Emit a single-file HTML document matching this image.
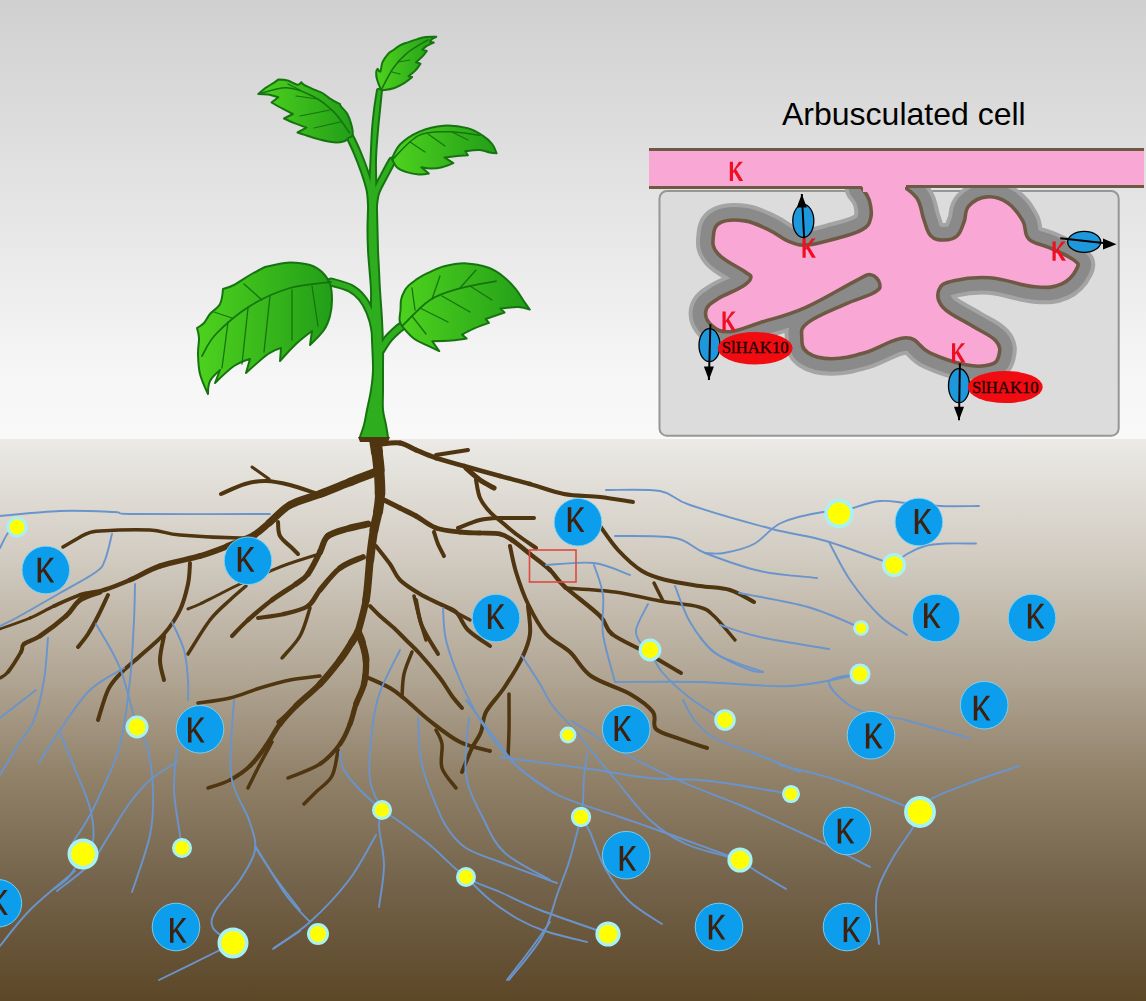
<!DOCTYPE html>
<html><head><meta charset="utf-8">
<style>
html,body{margin:0;padding:0;width:1146px;height:1001px;overflow:hidden;background:#fff}
svg{display:block}
</style></head>
<body>
<svg width="1146" height="1001" viewBox="0 0 1146 1001">

<defs>
<linearGradient id="sky" x1="0" y1="0" x2="0" y2="1">
<stop offset="0" stop-color="#d0d0d0"/>
<stop offset="0.5" stop-color="#e6e6e6"/>
<stop offset="0.85" stop-color="#f6f6f6"/>
<stop offset="1" stop-color="#f9f9f9"/>
</linearGradient>
<linearGradient id="soil" x1="0" y1="0" x2="0" y2="1">
<stop offset="0" stop-color="#ebeae6"/>
<stop offset="0.2" stop-color="#d3cdc3"/>
<stop offset="0.4" stop-color="#b5aa99"/>
<stop offset="0.6" stop-color="#918169"/>
<stop offset="0.8" stop-color="#73624a"/>
<stop offset="1" stop-color="#5c4727"/>
</linearGradient>
<linearGradient id="leafg" x1="0" y1="0" x2="1" y2="0">
<stop offset="0" stop-color="#4ed21e"/>
<stop offset="1" stop-color="#229e18"/>
</linearGradient>
<path id="kg" d="M0,0H3.5V12.6L12.5,0H16.4L7.4,11L16.6,24.8H12.9L5.4,13.6L3.5,15.7V24.8H0Z" fill="#3e200e"/>
<path id="rk" d="M0,0H3.2V9.3L9.2,0H13.2L6.3,7.5L13.4,19.4H9.5L4.2,10.3L3.2,11.5V19.4H0Z"/>
</defs>

<rect x="0" y="0" width="1146" height="439" fill="url(#sky)"/>
<rect x="0" y="439" width="1146" height="562" fill="url(#soil)"/>

<g fill="none" stroke="#4f3510" stroke-linecap="round" stroke-linejoin="round">
<path stroke-width="12.07" d="M375.0,439.0C375.3,441.2 376.3,446.8 377.0,452.0"/>
<path stroke-width="11.34" d="M377.0,452.0C377.7,457.2 378.5,463.0 379.0,470.0"/>
<path stroke-width="10.60" d="M379.0,470.0C379.5,477.0 380.2,487.0 380.0,494.0"/>
<path stroke-width="9.86" d="M380.0,494.0C379.8,501.0 379.0,506.0 378.0,512.0"/>
<path stroke-width="9.12" d="M378.0,512.0C377.0,518.0 375.3,522.0 374.0,530.0"/>
<path stroke-width="8.38" d="M374.0,530.0C372.7,538.0 371.3,548.3 370.0,560.0"/>
<path stroke-width="7.64" d="M370.0,560.0C368.7,571.7 368.0,588.0 366.0,600.0"/>
<path stroke-width="6.90" d="M366.0,600.0C364.0,612.0 359.3,626.7 358.0,632.0"/>
<path stroke-width="7.47" d="M358.0,632.0C357.0,633.7 355.0,637.3 352.0,642.0"/>
<path stroke-width="6.97" d="M352.0,642.0C349.0,646.7 345.3,653.0 340.0,660.0"/>
<path stroke-width="6.47" d="M340.0,660.0C334.7,667.0 327.3,676.3 320.0,684.0"/>
<path stroke-width="5.97" d="M320.0,684.0C312.7,691.7 302.7,699.3 296.0,706.0"/>
<path stroke-width="5.46" d="M296.0,706.0C289.3,712.7 285.0,717.3 280.0,724.0"/>
<path stroke-width="4.96" d="M280.0,724.0C275.0,730.7 271.0,739.0 266.0,746.0"/>
<path stroke-width="4.46" d="M266.0,746.0C261.0,753.0 256.0,760.3 250.0,766.0"/>
<path stroke-width="3.95" d="M250.0,766.0C244.0,771.7 237.0,776.3 230.0,780.0"/>
<path stroke-width="3.45" d="M230.0,780.0C223.0,783.7 211.7,786.7 208.0,788.0"/>
<path stroke-width="7.47" d="M358.0,632.0C358.7,633.7 360.7,637.3 362.0,642.0"/>
<path stroke-width="6.90" d="M362.0,642.0C363.3,646.7 365.7,653.0 366.0,660.0"/>
<path stroke-width="6.32" d="M366.0,660.0C366.3,667.0 365.7,676.7 364.0,684.0"/>
<path stroke-width="5.75" d="M364.0,684.0C362.3,691.3 358.3,697.3 356.0,704.0"/>
<path stroke-width="5.17" d="M356.0,704.0C353.7,710.7 352.7,717.3 350.0,724.0"/>
<path stroke-width="4.60" d="M350.0,724.0C347.3,730.7 345.0,737.3 340.0,744.0"/>
<path stroke-width="4.02" d="M340.0,744.0C335.0,750.7 328.7,758.3 320.0,764.0"/>
<path stroke-width="3.45" d="M320.0,764.0C311.3,769.7 293.3,775.7 288.0,778.0"/>
<path stroke-width="3.50" d="M294.0,708.0L278.0,722.0"/>
<path stroke-width="3.50" d="M272.0,742.0C270.0,745.7 264.0,756.3 260.0,764.0C256.0,771.7 250.0,784.0 248.0,788.0"/>
<path stroke-width="3.50" d="M338.0,750.0C337.0,754.3 335.7,769.0 332.0,776.0C328.3,783.0 320.7,787.3 316.0,792.0C311.3,796.7 306.0,802.0 304.0,804.0"/>
<path stroke-width="8.62" d="M376.0,472.0C371.7,473.7 359.3,478.3 350.0,482.0"/>
<path stroke-width="8.17" d="M350.0,482.0C340.7,485.7 330.0,490.2 320.0,494.0"/>
<path stroke-width="7.72" d="M320.0,494.0C310.0,497.8 298.5,500.2 290.0,505.0"/>
<path stroke-width="7.27" d="M290.0,505.0C281.5,509.8 275.0,518.0 269.0,523.0"/>
<path stroke-width="6.82" d="M269.0,523.0C263.0,528.0 260.8,531.2 254.0,535.0"/>
<path stroke-width="6.37" d="M254.0,535.0C247.2,538.8 237.0,542.5 228.0,546.0"/>
<path stroke-width="5.92" d="M228.0,546.0C219.0,549.5 211.3,552.7 200.0,556.0"/>
<path stroke-width="5.47" d="M200.0,556.0C188.7,559.3 171.7,562.0 160.0,566.0"/>
<path stroke-width="5.02" d="M160.0,566.0C148.3,570.0 139.3,576.0 130.0,580.0"/>
<path stroke-width="4.56" d="M130.0,580.0C120.7,584.0 112.3,587.5 104.0,590.0"/>
<path stroke-width="4.11" d="M104.0,590.0C95.7,592.5 88.3,592.3 80.0,595.0"/>
<path stroke-width="3.66" d="M80.0,595.0C71.7,597.7 62.3,602.2 54.0,606.0"/>
<path stroke-width="3.21" d="M54.0,606.0C45.7,609.8 39.0,614.2 30.0,618.0"/>
<path stroke-width="2.76" d="M30.0,618.0C21.0,621.8 5.0,627.2 0.0,629.0"/>
<path stroke-width="4.00" d="M315.0,493.0C310.8,491.7 298.2,487.0 290.0,485.0C281.8,483.0 273.5,481.2 266.0,481.0C258.5,480.8 252.5,481.8 245.0,484.0C237.5,486.2 225.0,492.3 221.0,494.0"/>
<path stroke-width="3.00" d="M269.0,479.0L252.0,467.0"/>
<path stroke-width="3.50" d="M63.0,547.0C65.0,545.8 71.2,542.2 75.0,540.0C78.8,537.8 81.8,535.5 86.0,534.0C90.2,532.5 89.3,531.7 100.0,531.0C110.7,530.3 136.7,529.3 150.0,530.0C163.3,530.7 165.0,533.7 180.0,535.0C195.0,536.3 227.3,537.8 240.0,538.0C252.7,538.2 253.3,536.3 256.0,536.0"/>
<path stroke-width="4.00" d="M278.0,522.0C278.3,524.3 277.7,531.7 280.0,536.0C282.3,540.3 289.0,545.0 292.0,548.0C295.0,551.0 297.0,553.0 298.0,554.0"/>
<path stroke-width="5.17" d="M100.0,592.0C96.7,593.3 85.7,596.0 80.0,600.0"/>
<path stroke-width="4.89" d="M80.0,600.0C74.3,604.0 72.7,610.0 66.0,616.0"/>
<path stroke-width="4.60" d="M66.0,616.0C59.3,622.0 47.0,631.3 40.0,636.0"/>
<path stroke-width="4.31" d="M40.0,636.0C33.0,640.7 27.2,641.3 24.0,644.0"/>
<path stroke-width="4.03" d="M24.0,644.0C20.8,646.7 23.7,647.3 21.0,652.0"/>
<path stroke-width="3.74" d="M21.0,652.0C18.3,656.7 11.5,667.7 8.0,672.0"/>
<path stroke-width="3.45" d="M8.0,672.0C4.5,676.3 1.3,677.0 0.0,678.0"/>
<path stroke-width="4.00" d="M108.0,595.0C106.3,598.5 101.3,609.5 98.0,616.0C94.7,622.5 91.3,628.8 88.0,634.0C84.7,639.2 79.7,644.8 78.0,647.0"/>
<path stroke-width="4.00" d="M190.0,563.0C189.7,566.5 189.7,576.2 188.0,584.0C186.3,591.8 184.0,601.7 180.0,610.0C176.0,618.3 170.7,626.3 164.0,634.0C157.3,641.7 147.3,649.3 140.0,656.0C132.7,662.7 125.3,668.3 120.0,674.0C114.7,679.7 111.7,682.3 108.0,690.0C104.3,697.7 99.7,715.0 98.0,720.0"/>
<path stroke-width="4.00" d="M164.0,636.0C163.3,640.0 160.0,652.7 160.0,660.0C160.0,667.3 163.3,676.7 164.0,680.0"/>
<path stroke-width="6.90" d="M368.0,524.0C365.0,524.7 356.7,526.0 350.0,528.0"/>
<path stroke-width="6.49" d="M350.0,528.0C343.3,530.0 333.0,532.0 328.0,536.0"/>
<path stroke-width="6.08" d="M328.0,536.0C323.0,540.0 323.3,545.7 320.0,552.0"/>
<path stroke-width="5.67" d="M320.0,552.0C316.7,558.3 312.0,568.7 308.0,574.0"/>
<path stroke-width="5.26" d="M308.0,574.0C304.0,579.3 302.0,579.7 296.0,584.0"/>
<path stroke-width="4.85" d="M296.0,584.0C290.0,588.3 280.0,594.0 272.0,600.0"/>
<path stroke-width="4.44" d="M272.0,600.0C264.0,606.0 254.7,614.0 248.0,620.0"/>
<path stroke-width="4.02" d="M248.0,620.0C241.3,626.0 234.7,633.3 232.0,636.0"/>
<path stroke-width="3.50" d="M246.0,586.0C243.3,588.3 236.0,594.3 230.0,600.0C224.0,605.7 217.0,611.0 210.0,620.0C203.0,629.0 191.7,648.3 188.0,654.0"/>
<path stroke-width="3.00" d="M316.0,555.0C311.3,556.5 296.0,561.2 288.0,564.0C280.0,566.8 276.0,568.7 268.0,572.0C260.0,575.3 248.7,580.0 240.0,584.0C231.3,588.0 222.7,592.7 216.0,596.0C209.3,599.3 204.7,601.8 200.0,604.0C195.3,606.2 190.0,608.2 188.0,609.0"/>
<path stroke-width="5.75" d="M363.0,557.0C359.2,558.8 347.2,562.5 340.0,568.0"/>
<path stroke-width="5.32" d="M340.0,568.0C332.8,573.5 325.3,583.7 320.0,590.0"/>
<path stroke-width="4.89" d="M320.0,590.0C314.7,596.3 314.0,602.0 308.0,606.0"/>
<path stroke-width="4.46" d="M308.0,606.0C302.0,610.0 292.3,612.0 284.0,614.0"/>
<path stroke-width="4.02" d="M284.0,614.0C275.7,616.0 262.3,617.3 258.0,618.0"/>
<path stroke-width="3.50" d="M310.0,608.0C308.3,612.7 304.7,627.7 300.0,636.0C295.3,644.3 285.0,654.3 282.0,658.0"/>
<path stroke-width="3.50" d="M320.0,676.0C315.0,676.7 300.0,678.0 290.0,680.0C280.0,682.0 270.0,685.0 260.0,688.0C250.0,691.0 240.3,695.5 230.0,698.0C219.7,700.5 203.3,702.2 198.0,703.0"/>
<path stroke-width="5.17" d="M380.0,444.0C383.3,443.8 394.0,442.0 400.0,443.0"/>
<path stroke-width="5.03" d="M400.0,443.0C406.0,444.0 410.0,447.5 416.0,450.0"/>
<path stroke-width="4.89" d="M416.0,450.0C422.0,452.5 428.0,455.3 436.0,458.0"/>
<path stroke-width="4.74" d="M436.0,458.0C444.0,460.7 453.3,463.0 464.0,466.0"/>
<path stroke-width="4.60" d="M464.0,466.0C474.7,469.0 489.0,473.0 500.0,476.0"/>
<path stroke-width="4.46" d="M500.0,476.0C511.0,479.0 519.3,481.0 530.0,484.0"/>
<path stroke-width="4.31" d="M530.0,484.0C540.7,487.0 552.3,491.8 564.0,494.0"/>
<path stroke-width="4.17" d="M564.0,494.0C575.7,496.2 588.5,495.7 600.0,497.0"/>
<path stroke-width="4.02" d="M600.0,497.0C611.5,498.3 627.5,501.2 633.0,502.0"/>
<path stroke-width="4.00" d="M436.0,455.0L468.0,450.0"/>
<path stroke-width="5.17" d="M466.0,468.0C468.3,470.0 475.3,476.7 480.0,480.0C484.7,483.3 491.7,486.7 494.0,488.0"/>
<path stroke-width="4.00" d="M476.0,480.0C476.7,483.0 477.7,492.7 480.0,498.0C482.3,503.3 486.0,507.7 490.0,512.0C494.0,516.3 499.7,520.3 504.0,524.0C508.3,527.7 510.7,530.0 516.0,534.0C521.3,538.0 532.7,545.7 536.0,548.0"/>
<path stroke-width="5.17" d="M384.0,500.0C386.7,501.3 394.7,505.3 400.0,508.0"/>
<path stroke-width="5.09" d="M400.0,508.0C405.3,510.7 410.0,512.7 416.0,516.0"/>
<path stroke-width="5.00" d="M416.0,516.0C422.0,519.3 428.7,525.3 436.0,528.0"/>
<path stroke-width="4.91" d="M436.0,528.0C443.3,530.7 452.7,531.2 460.0,532.0"/>
<path stroke-width="4.82" d="M460.0,532.0C467.3,532.8 473.3,532.7 480.0,533.0"/>
<path stroke-width="4.73" d="M480.0,533.0C486.7,533.3 494.7,532.8 500.0,534.0"/>
<path stroke-width="4.64" d="M500.0,534.0C505.3,535.2 507.0,536.7 512.0,540.0"/>
<path stroke-width="4.56" d="M512.0,540.0C517.0,543.3 523.7,549.0 530.0,554.0"/>
<path stroke-width="4.47" d="M530.0,554.0C536.3,559.0 544.3,564.7 550.0,570.0"/>
<path stroke-width="4.38" d="M550.0,570.0C555.7,575.3 555.7,578.3 564.0,586.0"/>
<path stroke-width="4.29" d="M564.0,586.0C572.3,593.7 592.0,608.0 600.0,616.0"/>
<path stroke-width="4.20" d="M600.0,616.0C608.0,624.0 604.5,628.0 612.0,634.0"/>
<path stroke-width="4.11" d="M612.0,634.0C619.5,640.0 633.5,645.5 645.0,652.0"/>
<path stroke-width="4.02" d="M645.0,652.0C656.5,658.5 675.0,669.5 681.0,673.0"/>
<path stroke-width="4.00" d="M458.0,528.0C461.7,526.7 473.0,521.7 480.0,520.0C487.0,518.3 491.0,518.3 500.0,518.0C509.0,517.7 528.3,518.0 534.0,518.0"/>
<path stroke-width="4.00" d="M434.0,532.0C434.7,534.0 436.3,540.0 438.0,544.0C439.7,548.0 443.0,554.0 444.0,556.0"/>
<path stroke-width="4.00" d="M376.0,546.0C378.3,549.0 386.0,558.3 390.0,564.0C394.0,569.7 395.0,575.0 400.0,580.0C405.0,585.0 413.3,590.0 420.0,594.0C426.7,598.0 434.0,601.0 440.0,604.0C446.0,607.0 451.3,607.7 456.0,612.0C460.7,616.3 462.3,624.3 468.0,630.0C473.7,635.7 486.3,643.3 490.0,646.0"/>
<path stroke-width="3.50" d="M440.0,604.0L470.0,620.0"/>
<path stroke-width="3.50" d="M414.0,596.0C415.0,600.0 418.0,612.7 420.0,620.0C422.0,627.3 425.0,636.7 426.0,640.0"/>
<path stroke-width="4.00" d="M416.0,600.0C417.0,604.3 418.3,617.0 422.0,626.0C425.7,635.0 435.3,649.3 438.0,654.0"/>
<path stroke-width="4.00" d="M370.0,606.0C371.7,607.7 376.0,612.3 380.0,616.0C384.0,619.7 389.7,624.0 394.0,628.0C398.3,632.0 401.7,635.7 406.0,640.0C410.3,644.3 414.3,647.7 420.0,654.0C425.7,660.3 434.7,671.0 440.0,678.0C445.3,685.0 448.3,691.0 452.0,696.0C455.7,701.0 460.3,706.0 462.0,708.0"/>
<path stroke-width="4.00" d="M364.0,676.0C368.3,678.0 383.0,684.0 390.0,688.0C397.0,692.0 399.3,694.5 406.0,700.0C412.7,705.5 421.0,714.0 430.0,721.0C439.0,728.0 450.0,737.0 460.0,742.0C470.0,747.0 485.0,749.5 490.0,751.0"/>
<path stroke-width="3.50" d="M402.0,697.0C402.3,693.2 402.3,681.5 404.0,674.0C405.7,666.5 410.7,655.7 412.0,652.0"/>
<path stroke-width="3.50" d="M436.0,730.0C437.0,732.3 441.0,737.7 442.0,744.0C443.0,750.3 439.7,760.7 442.0,768.0C444.3,775.3 453.7,784.7 456.0,788.0"/>
<path stroke-width="4.00" d="M510.0,546.0C511.0,550.3 513.0,562.3 516.0,572.0C519.0,581.7 523.0,593.7 528.0,604.0C533.0,614.3 539.0,626.0 546.0,634.0C553.0,642.0 562.5,645.0 570.0,652.0C577.5,659.0 581.0,669.0 591.0,676.0C601.0,683.0 619.7,688.0 630.0,694.0C640.3,700.0 648.7,706.2 653.0,712.0C657.3,717.8 651.5,724.5 656.0,729.0C660.5,733.5 671.5,735.8 680.0,739.0C688.5,742.2 702.5,746.5 707.0,748.0"/>
<path stroke-width="4.00" d="M528.0,606.0C528.3,610.7 531.0,625.3 530.0,634.0C529.0,642.7 526.3,649.0 522.0,658.0C517.7,667.0 510.0,679.0 504.0,688.0C498.0,697.0 489.8,704.7 486.0,712.0C482.2,719.3 483.3,726.0 481.0,732.0C478.7,738.0 475.2,741.3 472.0,748.0C468.8,754.7 463.7,768.0 462.0,772.0"/>
<path stroke-width="3.50" d="M509.0,694.0C509.0,700.0 509.2,719.5 509.0,730.0C508.8,740.5 508.2,752.5 508.0,757.0"/>
<path stroke-width="4.00" d="M600.0,526.0C603.0,530.0 611.0,542.5 618.0,550.0C625.0,557.5 634.0,566.0 642.0,571.0C650.0,576.0 656.3,577.5 666.0,580.0C675.7,582.5 689.3,584.3 700.0,586.0C710.7,587.7 721.0,587.3 730.0,590.0C739.0,592.7 750.0,600.0 754.0,602.0"/>
<path stroke-width="3.50" d="M565.0,588.0C573.3,588.7 599.2,589.8 615.0,592.0C630.8,594.2 646.0,598.5 660.0,601.0C674.0,603.5 690.0,604.5 699.0,607.0C708.0,609.5 708.0,610.5 714.0,616.0C720.0,621.5 731.5,636.0 735.0,640.0"/>
<path stroke-width="3.50" d="M654.0,583.0L663.0,601.0"/>
</g>
<g fill="none" stroke="#6a94cc" stroke-width="1.9" stroke-linecap="round" stroke-linejoin="round">
<path d="M0.0,516.0C10.0,515.2 41.0,511.7 60.0,511.0C79.0,510.3 101.5,511.5 114.0,512.0C126.5,512.5 109.0,513.7 135.0,514.0C161.0,514.3 247.5,514.0 270.0,514.0"/>
<path d="M17.0,527.0C15.5,528.0 10.8,529.5 8.0,533.0C5.2,536.5 1.3,545.5 0.0,548.0"/>
<path d="M112.0,534.0C110.8,538.3 107.7,553.7 105.0,560.0C102.3,566.3 103.5,566.5 96.0,572.0C88.5,577.5 73.0,585.5 60.0,593.0C47.0,600.5 28.0,611.5 18.0,617.0C8.0,622.5 3.0,624.5 0.0,626.0"/>
<path d="M135.0,584.0C134.8,590.0 134.8,604.0 134.0,620.0C133.2,636.0 132.3,659.2 130.0,680.0C127.7,700.8 124.7,726.7 120.0,745.0C115.3,763.3 107.0,778.3 102.0,790.0C97.0,801.7 93.5,808.3 90.0,815.0C86.5,821.7 83.8,825.5 81.0,830.0C78.2,834.5 74.3,840.0 73.0,842.0"/>
<path d="M96.0,624.0C100.0,631.3 113.2,650.8 120.0,668.0C126.8,685.2 132.5,714.2 137.0,727.0C141.5,739.8 144.3,734.5 147.0,745.0C149.7,755.5 152.5,775.0 153.0,790.0C153.5,805.0 153.5,818.0 150.0,835.0C146.5,852.0 135.0,882.5 132.0,892.0"/>
<path d="M48.0,638.0C47.3,645.0 46.3,666.3 44.0,680.0C41.7,693.7 38.3,709.2 34.0,720.0C29.7,730.8 23.7,735.8 18.0,745.0C12.3,754.2 3.0,770.0 0.0,775.0"/>
<path d="M36.0,690.0L0.0,718.0"/>
<path d="M124.0,668.0C118.3,671.7 100.7,679.7 90.0,690.0C79.3,700.3 68.5,717.8 60.0,730.0C51.5,742.2 42.5,757.5 39.0,763.0"/>
<path d="M60.0,732.0C62.5,738.2 70.0,756.3 75.0,769.0C80.0,781.7 87.0,796.0 90.0,808.0C93.0,820.0 94.2,833.3 93.0,841.0C91.8,848.7 84.7,851.8 83.0,854.0"/>
<path d="M172.0,622.0C174.0,626.7 181.3,640.3 184.0,650.0C186.7,659.7 187.3,671.7 188.0,680.0C188.7,688.3 188.0,696.7 188.0,700.0"/>
<path d="M177.0,748.0C176.5,755.0 173.5,775.5 174.0,790.0C174.5,804.5 178.7,825.3 180.0,835.0C181.3,844.7 181.7,845.8 182.0,848.0"/>
<path d="M83.0,854.0C80.7,857.8 73.8,871.2 69.0,877.0C64.2,882.8 56.5,887.0 54.0,889.0"/>
<path d="M75.0,871.0C67.5,877.5 42.5,897.5 30.0,910.0C17.5,922.5 5.0,940.0 0.0,946.0"/>
<path d="M234.0,700.0C233.5,712.5 228.5,755.0 231.0,775.0C233.5,795.0 245.0,807.5 249.0,820.0C253.0,832.5 256.5,840.0 255.0,850.0C253.5,860.0 246.5,870.0 240.0,880.0C233.5,890.0 220.5,902.0 216.0,910.0C211.5,918.0 210.2,922.5 213.0,928.0C215.8,933.5 229.7,940.5 233.0,943.0"/>
<path d="M255.0,847.0C258.7,852.5 269.5,869.5 277.0,880.0C284.5,890.5 296.2,905.0 300.0,910.0"/>
<path d="M233.0,943.0C230.2,944.5 228.3,945.8 216.0,952.0C203.7,958.2 168.5,975.3 159.0,980.0"/>
<path d="M300.0,931.0L273.0,949.0"/>
<path d="M443.0,608.0C443.5,613.3 443.2,628.0 446.0,640.0C448.8,652.0 454.3,666.7 460.0,680.0C465.7,693.3 473.3,708.7 480.0,720.0C486.7,731.3 492.7,739.3 500.0,748.0C507.3,756.7 514.0,764.0 524.0,772.0C534.0,780.0 544.0,788.5 560.0,796.0C576.0,803.5 600.0,810.0 620.0,817.0C640.0,824.0 660.0,830.8 680.0,838.0C700.0,845.2 730.0,856.3 740.0,860.0"/>
<path d="M522.0,656.0C525.0,660.7 535.0,675.8 540.0,684.0C545.0,692.2 547.2,698.3 552.0,705.0C556.8,711.7 563.7,717.8 569.0,724.0C574.3,730.2 576.5,733.0 584.0,742.0C591.5,751.0 603.0,765.0 614.0,778.0C625.0,791.0 638.0,809.0 650.0,820.0C662.0,831.0 671.0,837.3 686.0,844.0C701.0,850.7 731.0,857.3 740.0,860.0"/>
<path d="M400.0,650.0C396.7,657.0 384.7,678.7 380.0,692.0C375.3,705.3 373.7,715.3 372.0,730.0C370.3,744.7 368.3,766.7 370.0,780.0C371.7,793.3 380.0,805.0 382.0,810.0"/>
<path d="M340.0,752.0C340.7,755.0 340.7,763.7 344.0,770.0C347.3,776.3 353.7,783.3 360.0,790.0C366.3,796.7 378.3,806.7 382.0,810.0"/>
<path d="M382.0,810.0C381.5,812.7 378.7,816.8 379.0,826.0C379.3,835.2 384.0,851.5 384.0,865.0C384.0,878.5 379.8,900.0 379.0,907.0"/>
<path d="M382.0,810.0C385.0,812.0 392.0,816.2 400.0,822.0C408.0,827.8 419.0,835.8 430.0,845.0C441.0,854.2 454.3,869.2 466.0,877.0C477.7,884.8 487.7,886.5 500.0,892.0C512.3,897.5 522.0,903.0 540.0,910.0C558.0,917.0 596.7,930.0 608.0,934.0"/>
<path d="M418.0,718.0C418.5,725.0 419.0,748.0 421.0,760.0C423.0,772.0 425.8,779.0 430.0,790.0C434.2,801.0 440.0,816.3 446.0,826.0C452.0,835.7 457.0,842.0 466.0,848.0C475.0,854.0 484.8,856.2 500.0,862.0C515.2,867.8 547.5,879.5 557.0,883.0"/>
<path d="M466.0,700.0C471.7,707.5 491.0,733.5 500.0,745.0C509.0,756.5 511.7,761.5 520.0,769.0C528.3,776.5 545.0,786.5 550.0,790.0"/>
<path d="M469.0,718.0C468.5,727.5 463.5,758.0 466.0,775.0C468.5,792.0 477.5,807.0 484.0,820.0C490.5,833.0 494.0,843.0 505.0,853.0C516.0,863.0 542.5,875.5 550.0,880.0"/>
<path d="M376.0,835.0C371.5,842.5 360.0,865.5 349.0,880.0C338.0,894.5 322.5,910.7 310.0,922.0C297.5,933.3 280.0,943.7 274.0,948.0"/>
<path d="M256.0,847.0C261.0,855.0 277.0,882.5 286.0,895.0C295.0,907.5 306.0,917.5 310.0,922.0"/>
<path d="M177.0,762.0C172.5,765.0 158.0,773.0 150.0,780.0C142.0,787.0 136.0,794.5 129.0,804.0C122.0,813.5 114.5,827.0 108.0,837.0C101.5,847.0 98.5,855.0 90.0,864.0C81.5,873.0 62.5,886.5 57.0,891.0"/>
<path d="M550.0,922.0C546.7,926.7 537.2,940.3 530.0,950.0C522.8,959.7 510.8,975.0 507.0,980.0"/>
<path d="M606.0,490.0C615.0,490.2 646.0,488.5 660.0,491.0C674.0,493.5 671.3,498.7 690.0,505.0C708.7,511.3 749.3,523.0 772.0,529.0C794.7,535.0 805.7,535.0 826.0,541.0C846.3,547.0 882.7,561.0 894.0,565.0"/>
<path d="M615.0,536.0C625.0,536.3 660.0,535.2 675.0,538.0C690.0,540.8 690.8,547.5 705.0,553.0C719.2,558.5 741.3,566.8 760.0,571.0C778.7,575.2 807.5,576.8 817.0,578.0"/>
<path d="M705.0,553.0C708.2,553.0 715.8,554.5 724.0,553.0C732.2,551.5 744.5,549.0 754.0,544.0C763.5,539.0 769.5,528.3 781.0,523.0C792.5,517.7 813.5,513.5 823.0,512.0C832.5,510.5 835.5,513.7 838.0,514.0"/>
<path d="M546.0,565.0C554.0,564.7 580.0,561.3 594.0,563.0C608.0,564.7 624.0,573.0 630.0,575.0"/>
<path d="M594.0,565.0C595.5,570.0 601.5,583.5 603.0,595.0C604.5,606.5 601.0,619.5 603.0,634.0C605.0,648.5 613.0,674.0 615.0,682.0"/>
<path d="M648.0,604.0C646.0,608.3 637.0,623.2 636.0,630.0C635.0,636.8 639.7,641.7 642.0,645.0C644.3,648.3 648.7,649.2 650.0,650.0"/>
<path d="M675.0,586.0C677.5,592.0 683.5,611.0 690.0,622.0C696.5,633.0 704.0,644.0 714.0,652.0C724.0,660.0 741.8,666.7 750.0,670.0C758.2,673.3 760.8,671.7 763.0,672.0"/>
<path d="M720.0,625.0C726.7,627.0 741.8,633.0 760.0,637.0C778.2,641.0 817.5,647.0 829.0,649.0"/>
<path d="M615.0,682.0C629.2,682.0 670.8,681.3 700.0,682.0C729.2,682.7 763.3,687.3 790.0,686.0C816.7,684.7 848.3,676.0 860.0,674.0"/>
<path d="M838.0,514.0C840.5,513.0 846.0,510.2 853.0,508.0C860.0,505.8 871.0,501.8 880.0,501.0C889.0,500.2 897.0,502.2 907.0,503.0C917.0,503.8 928.0,505.5 940.0,506.0C952.0,506.5 972.5,506.0 979.0,506.0"/>
<path d="M894.0,565.0C896.2,563.2 901.8,557.2 907.0,554.0C912.2,550.8 918.7,547.8 925.0,546.0C931.3,544.2 936.5,543.9 945.0,543.5C953.5,543.1 970.8,543.5 976.0,543.5"/>
<path d="M829.0,542.0C832.5,548.3 841.5,567.7 850.0,580.0C858.5,592.3 870.5,606.8 880.0,616.0C889.5,625.2 902.5,631.8 907.0,635.0"/>
<path d="M739.0,593.0C750.5,595.3 787.7,601.2 808.0,607.0C828.3,612.8 852.2,624.5 861.0,628.0"/>
<path d="M700.0,637.0C703.0,640.0 707.5,649.2 718.0,655.0C728.5,660.8 755.5,669.2 763.0,672.0"/>
<path d="M860.0,674.0C854.8,675.3 829.7,676.2 829.0,682.0C828.3,687.8 843.3,702.7 856.0,709.0C868.7,715.3 886.2,715.2 905.0,720.0C923.8,724.8 958.3,735.0 969.0,738.0"/>
<path d="M500.0,757.0C515.0,759.0 565.0,765.5 590.0,769.0C615.0,772.5 630.0,776.0 650.0,778.0C670.0,780.0 686.5,778.3 710.0,781.0C733.5,783.7 777.5,791.8 791.0,794.0"/>
<path d="M572.0,721.0C580.0,726.0 602.0,741.0 620.0,751.0C638.0,761.0 660.0,772.0 680.0,781.0C700.0,790.0 723.3,798.0 740.0,805.0C756.7,812.0 765.8,816.5 780.0,823.0C794.2,829.5 810.0,836.7 825.0,844.0C840.0,851.3 862.5,863.2 870.0,867.0"/>
<path d="M683.0,700.0C685.0,703.5 689.5,714.5 695.0,721.0C700.5,727.5 705.8,733.5 716.0,739.0C726.2,744.5 742.0,748.5 756.0,754.0C770.0,759.5 792.7,769.0 800.0,772.0"/>
<path d="M650.0,650.0C652.0,653.7 655.3,664.0 662.0,672.0C668.7,680.0 679.5,689.8 690.0,698.0C700.5,706.2 719.2,717.2 725.0,721.0"/>
<path d="M587.0,754.0C586.5,758.0 584.7,770.0 584.0,778.0C583.3,786.0 583.5,795.5 583.0,802.0C582.5,808.5 581.3,814.5 581.0,817.0"/>
<path d="M581.0,817.0C580.5,819.0 580.0,821.5 578.0,829.0C576.0,836.5 572.5,851.0 569.0,862.0C565.5,873.0 561.5,882.5 557.0,895.0C552.5,907.5 550.0,922.8 542.0,937.0C534.0,951.2 514.5,972.8 509.0,980.0"/>
<path d="M581.0,817.0C582.5,819.5 586.0,823.5 590.0,832.0C594.0,840.5 598.5,856.5 605.0,868.0C611.5,879.5 619.5,891.7 629.0,901.0C638.5,910.3 656.5,920.2 662.0,924.0"/>
<path d="M740.0,860.0C742.7,861.8 748.3,866.2 756.0,871.0C763.7,875.8 781.0,886.0 786.0,889.0"/>
<path d="M466.0,877.0C470.0,880.8 481.3,893.0 490.0,900.0C498.7,907.0 508.8,913.8 518.0,919.0C527.2,924.2 533.5,927.2 545.0,931.0C556.5,934.8 580.0,940.2 587.0,942.0"/>
<path d="M780.0,765.0C790.0,767.7 816.7,773.2 840.0,781.0C863.3,788.8 906.7,806.8 920.0,812.0"/>
<path d="M920.0,812.0C922.2,809.7 923.8,803.2 933.0,798.0C942.2,792.8 960.7,786.3 975.0,781.0C989.3,775.7 1011.7,768.5 1019.0,766.0"/>
<path d="M920.0,812.0C918.7,814.8 916.3,821.7 912.0,829.0C907.7,836.3 899.5,846.5 894.0,856.0C888.5,865.5 882.0,877.0 879.0,886.0C876.0,895.0 876.0,900.3 876.0,910.0C876.0,919.7 878.5,938.3 879.0,944.0"/>
</g>
<rect x="529.5" y="550" width="46.5" height="32" fill="none" stroke="#dd4a40" stroke-width="1.6"/>
<circle cx="17" cy="527" r="9.01" fill="#ffff00" stroke="#aaf2f2" stroke-width="3.0"/>
<circle cx="137" cy="727" r="9.94" fill="#ffff00" stroke="#aaf2f2" stroke-width="3.1"/>
<circle cx="83" cy="854" r="13.64" fill="#ffff00" stroke="#aaf2f2" stroke-width="3.7"/>
<circle cx="182" cy="848" r="8.55" fill="#ffff00" stroke="#aaf2f2" stroke-width="2.9"/>
<circle cx="233" cy="943" r="13.64" fill="#ffff00" stroke="#aaf2f2" stroke-width="3.7"/>
<circle cx="382" cy="810" r="8.55" fill="#ffff00" stroke="#aaf2f2" stroke-width="2.9"/>
<circle cx="466" cy="877" r="8.55" fill="#ffff00" stroke="#aaf2f2" stroke-width="2.9"/>
<circle cx="318" cy="934" r="9.47" fill="#ffff00" stroke="#aaf2f2" stroke-width="3.0"/>
<circle cx="568" cy="735" r="7.07" fill="#ffff00" stroke="#aaf2f2" stroke-width="2.7"/>
<circle cx="581" cy="817" r="8.73" fill="#ffff00" stroke="#aaf2f2" stroke-width="2.9"/>
<circle cx="608" cy="934" r="10.96" fill="#ffff00" stroke="#aaf2f2" stroke-width="3.3"/>
<circle cx="650" cy="650" r="9.85" fill="#ffff00" stroke="#aaf2f2" stroke-width="3.1"/>
<circle cx="725" cy="720" r="9.29" fill="#ffff00" stroke="#aaf2f2" stroke-width="3.0"/>
<circle cx="740" cy="860" r="10.96" fill="#ffff00" stroke="#aaf2f2" stroke-width="3.3"/>
<circle cx="791" cy="794" r="7.62" fill="#ffff00" stroke="#aaf2f2" stroke-width="2.8"/>
<circle cx="839" cy="513.5" r="12.90" fill="#ffff00" stroke="#aaf2f2" stroke-width="3.6"/>
<circle cx="894" cy="565" r="10.40" fill="#ffff00" stroke="#aaf2f2" stroke-width="3.2"/>
<circle cx="861" cy="628" r="6.51" fill="#ffff00" stroke="#aaf2f2" stroke-width="2.6"/>
<circle cx="860" cy="674" r="9.01" fill="#ffff00" stroke="#aaf2f2" stroke-width="3.0"/>
<circle cx="920" cy="812" r="14.01" fill="#ffff00" stroke="#aaf2f2" stroke-width="3.8"/>
<circle cx="45.8" cy="570" r="23.8" fill="#0c9eec" stroke="#7fd4f2" stroke-width="0.9"/><use href="#kg" x="37.6" y="557.7"/>
<circle cx="248" cy="560.8" r="23.8" fill="#0c9eec" stroke="#7fd4f2" stroke-width="0.9"/><use href="#kg" x="237.8" y="547"/>
<circle cx="200" cy="729.3" r="23.8" fill="#0c9eec" stroke="#7fd4f2" stroke-width="0.9"/><use href="#kg" x="188" y="717.6"/>
<circle cx="578" cy="522.2" r="23.8" fill="#0c9eec" stroke="#7fd4f2" stroke-width="0.9"/><use href="#kg" x="567.8" y="507.3"/>
<circle cx="496" cy="618.1" r="23.8" fill="#0c9eec" stroke="#7fd4f2" stroke-width="0.9"/><use href="#kg" x="487.9" y="604.3"/>
<circle cx="626.2" cy="729.2" r="23.8" fill="#0c9eec" stroke="#7fd4f2" stroke-width="0.9"/><use href="#kg" x="614.6" y="716.1"/>
<circle cx="626.2" cy="855.2" r="23.8" fill="#0c9eec" stroke="#7fd4f2" stroke-width="0.9"/><use href="#kg" x="619.7" y="846"/>
<circle cx="918.9" cy="522" r="23.8" fill="#0c9eec" stroke="#7fd4f2" stroke-width="0.9"/><use href="#kg" x="914.8" y="509.1"/>
<circle cx="936.2" cy="618" r="23.8" fill="#0c9eec" stroke="#7fd4f2" stroke-width="0.9"/><use href="#kg" x="924" y="603.3"/>
<circle cx="1032" cy="618" r="23.8" fill="#0c9eec" stroke="#7fd4f2" stroke-width="0.9"/><use href="#kg" x="1027.9" y="603.7"/>
<circle cx="984.2" cy="705.2" r="23.8" fill="#0c9eec" stroke="#7fd4f2" stroke-width="0.9"/><use href="#kg" x="973.8" y="695.7"/>
<circle cx="871" cy="735.2" r="23.8" fill="#0c9eec" stroke="#7fd4f2" stroke-width="0.9"/><use href="#kg" x="865.9" y="723.6"/>
<circle cx="847" cy="831" r="23.8" fill="#0c9eec" stroke="#7fd4f2" stroke-width="0.9"/><use href="#kg" x="837.7" y="818.7"/>
<circle cx="-2.1" cy="903.3" r="23.8" fill="#0c9eec" stroke="#7fd4f2" stroke-width="0.9"/><use href="#kg" x="-8.7" y="890.1"/>
<circle cx="176" cy="927" r="23.8" fill="#0c9eec" stroke="#7fd4f2" stroke-width="0.9"/><use href="#kg" x="170" y="918"/>
<circle cx="719" cy="927" r="23.8" fill="#0c9eec" stroke="#7fd4f2" stroke-width="0.9"/><use href="#kg" x="708.8" y="914.7"/>
<circle cx="847" cy="927" r="23.8" fill="#0c9eec" stroke="#7fd4f2" stroke-width="0.9"/><use href="#kg" x="843.7" y="917.1"/>
<path d="M377.0,352.0C376.7,348.3 376.2,336.7 375.0,330.0C373.8,323.3 372.2,317.3 370.0,312.0C367.8,306.7 365.3,302.0 362.0,298.0C358.7,294.0 355.2,290.7 350.0,288.0C344.8,285.3 334.2,283.0 331.0,282.0" fill="none" stroke="#167410" stroke-width="9" stroke-linecap="round"/>
<path d="M380.0,351.0C381.3,349.0 385.2,342.5 388.0,339.0C390.8,335.5 394.2,332.5 397.0,330.0C399.8,327.5 403.7,325.0 405.0,324.0" fill="none" stroke="#167410" stroke-width="9.5" stroke-linecap="round"/>
<path d="M371.5,206.0C371.2,203.3 371.2,196.0 370.0,190.0C368.8,184.0 366.2,176.3 364.0,170.0C361.8,163.7 359.3,157.5 357.0,152.0C354.7,146.5 351.2,139.5 350.0,137.0" fill="none" stroke="#167410" stroke-width="8.8" stroke-linecap="round"/>
<path d="M373.5,206.0C373.9,203.7 374.2,197.0 376.0,192.0C377.8,187.0 381.3,181.2 384.0,176.0C386.7,170.8 390.7,163.5 392.0,161.0" fill="none" stroke="#167410" stroke-width="8.8" stroke-linecap="round"/>
<path d="M361.0,437.0C361.7,435.0 363.8,429.5 365.0,425.0C366.2,420.5 366.8,415.8 368.0,410.0C369.2,404.2 371.0,396.7 372.0,390.0C373.0,383.3 373.8,378.3 374.0,370.0C374.2,361.7 373.3,350.0 373.0,340.0C372.7,330.0 372.2,318.3 372.0,310.0C371.8,301.7 372.2,296.7 372.0,290.0C371.8,283.3 371.0,276.7 370.5,270.0C370.0,263.3 369.3,256.7 369.0,250.0C368.7,243.3 368.5,236.7 368.5,230.0C368.5,223.3 368.8,216.7 369.0,210.0C369.2,203.3 369.6,198.3 370.0,190.0C370.4,181.7 371.0,170.0 371.5,160.0C372.0,150.0 372.4,138.3 373.0,130.0C373.6,121.7 374.2,116.7 375.0,110.0C375.8,103.3 377.5,93.3 378.0,90.0 L381.0,90.0C380.7,93.3 379.7,103.3 379.0,110.0C378.3,116.7 377.7,121.7 377.0,130.0C376.3,138.3 375.2,150.0 375.0,160.0C374.8,170.0 375.3,181.7 375.5,190.0C375.7,198.3 375.8,203.3 376.0,210.0C376.2,216.7 376.3,223.3 376.5,230.0C376.7,236.7 376.8,243.3 377.0,250.0C377.2,256.7 377.7,263.3 378.0,270.0C378.3,276.7 378.5,281.7 379.0,290.0C379.5,298.3 380.5,310.8 381.0,320.0C381.5,329.2 381.8,336.7 382.0,345.0C382.2,353.3 382.0,362.5 382.0,370.0C382.0,377.5 382.0,383.3 382.0,390.0C382.0,396.7 381.5,404.2 382.0,410.0C382.5,415.8 384.2,420.5 385.0,425.0C385.8,429.5 386.7,435.0 387.0,437.0 Z" fill="none" stroke="#167410" stroke-width="4" stroke-linejoin="round"/>
<path d="M377.0,352.0C376.7,348.3 376.2,336.7 375.0,330.0C373.8,323.3 372.2,317.3 370.0,312.0C367.8,306.7 365.3,302.0 362.0,298.0C358.7,294.0 355.2,290.7 350.0,288.0C344.8,285.3 334.2,283.0 331.0,282.0" fill="none" stroke="#2eae1e" stroke-width="5" stroke-linecap="round"/>
<path d="M380.0,351.0C381.3,349.0 385.2,342.5 388.0,339.0C390.8,335.5 394.2,332.5 397.0,330.0C399.8,327.5 403.7,325.0 405.0,324.0" fill="none" stroke="#2eae1e" stroke-width="5.5" stroke-linecap="round"/>
<path d="M371.5,206.0C371.2,203.3 371.2,196.0 370.0,190.0C368.8,184.0 366.2,176.3 364.0,170.0C361.8,163.7 359.3,157.5 357.0,152.0C354.7,146.5 351.2,139.5 350.0,137.0" fill="none" stroke="#2eae1e" stroke-width="4.8" stroke-linecap="round"/>
<path d="M373.5,206.0C373.9,203.7 374.2,197.0 376.0,192.0C377.8,187.0 381.3,181.2 384.0,176.0C386.7,170.8 390.7,163.5 392.0,161.0" fill="none" stroke="#2eae1e" stroke-width="4.8" stroke-linecap="round"/>
<path d="M361.0,437.0C361.7,435.0 363.8,429.5 365.0,425.0C366.2,420.5 366.8,415.8 368.0,410.0C369.2,404.2 371.0,396.7 372.0,390.0C373.0,383.3 373.8,378.3 374.0,370.0C374.2,361.7 373.3,350.0 373.0,340.0C372.7,330.0 372.2,318.3 372.0,310.0C371.8,301.7 372.2,296.7 372.0,290.0C371.8,283.3 371.0,276.7 370.5,270.0C370.0,263.3 369.3,256.7 369.0,250.0C368.7,243.3 368.5,236.7 368.5,230.0C368.5,223.3 368.8,216.7 369.0,210.0C369.2,203.3 369.6,198.3 370.0,190.0C370.4,181.7 371.0,170.0 371.5,160.0C372.0,150.0 372.4,138.3 373.0,130.0C373.6,121.7 374.2,116.7 375.0,110.0C375.8,103.3 377.5,93.3 378.0,90.0 L381.0,90.0C380.7,93.3 379.7,103.3 379.0,110.0C378.3,116.7 377.7,121.7 377.0,130.0C376.3,138.3 375.2,150.0 375.0,160.0C374.8,170.0 375.3,181.7 375.5,190.0C375.7,198.3 375.8,203.3 376.0,210.0C376.2,216.7 376.3,223.3 376.5,230.0C376.7,236.7 376.8,243.3 377.0,250.0C377.2,256.7 377.7,263.3 378.0,270.0C378.3,276.7 378.5,281.7 379.0,290.0C379.5,298.3 380.5,310.8 381.0,320.0C381.5,329.2 381.8,336.7 382.0,345.0C382.2,353.3 382.0,362.5 382.0,370.0C382.0,377.5 382.0,383.3 382.0,390.0C382.0,396.7 381.5,404.2 382.0,410.0C382.5,415.8 384.2,420.5 385.0,425.0C385.8,429.5 386.7,435.0 387.0,437.0 Z" fill="#2eae1e"/>
<path d="M208.0,394.0C208.0,394.0 201.7,380.7 200.0,374.0C198.3,367.3 198.2,360.0 198.0,354.0C197.8,348.0 199.2,342.3 199.0,338.0C198.8,333.7 197.0,328.0 197.0,328.0C197.0,328.0 201.8,325.3 204.0,323.0C206.2,320.7 207.3,317.2 210.0,314.0C212.7,310.8 217.8,308.2 220.0,304.0C222.2,299.8 223.0,289.0 223.0,289.0C223.0,289.0 229.5,287.3 234.0,285.0C238.5,282.7 244.8,278.0 250.0,275.0C255.2,272.0 265.0,267.0 265.0,267.0C265.0,267.0 269.8,265.8 274.0,265.0C278.2,264.2 284.0,262.4 290.0,262.4C296.0,262.4 304.7,263.4 310.0,265.0C315.3,266.6 318.7,268.8 322.0,272.0C325.3,275.2 328.3,279.3 330.0,284.0C331.7,288.7 332.0,294.7 332.0,300.0C332.0,305.3 331.3,311.0 330.0,316.0C328.7,321.0 327.3,325.2 324.0,330.0C320.7,334.8 310.0,345.0 310.0,345.0C310.0,345.0 312.0,331.0 312.0,331.0C312.0,331.0 301.3,339.0 296.0,344.0C290.7,349.0 280.0,361.0 280.0,361.0C280.0,361.0 281.0,348.0 281.0,348.0C281.0,348.0 273.8,349.8 268.0,354.0C262.2,358.2 246.0,373.0 246.0,373.0C246.0,373.0 250.0,359.0 250.0,359.0C250.0,359.0 239.8,362.0 234.0,366.0C228.2,370.0 215.0,383.0 215.0,383.0C215.0,383.0 220.0,370.0 220.0,370.0C220.0,370.0 212.0,377.0 210.0,381.0C208.0,385.0 208.0,394.0 208.0,394.0Z" fill="url(#leafg)" stroke="#167410" stroke-width="2" stroke-linejoin="round"/>
<path d="M331.0,282.0C324.2,283.0 303.5,284.0 290.0,288.0C276.5,292.0 262.3,298.3 250.0,306.0C237.7,313.7 224.0,325.7 216.0,334.0C208.0,342.3 204.3,352.3 202.0,356.0" fill="none" stroke="#167410" stroke-width="1.8" stroke-linecap="round"/>
<path d="M312.0,286.0L318.0,326.0" fill="none" stroke="#167410" stroke-width="1.3" stroke-linecap="round"/>
<path d="M292.0,290.0L292.0,340.0" fill="none" stroke="#167410" stroke-width="1.3" stroke-linecap="round"/>
<path d="M270.0,296.0L264.0,352.0" fill="none" stroke="#167410" stroke-width="1.3" stroke-linecap="round"/>
<path d="M248.0,308.0L242.0,364.0" fill="none" stroke="#167410" stroke-width="1.3" stroke-linecap="round"/>
<path d="M228.0,322.0L222.0,368.0" fill="none" stroke="#167410" stroke-width="1.3" stroke-linecap="round"/>
<path d="M262.0,300.0L244.0,284.0" fill="none" stroke="#167410" stroke-width="1.3" stroke-linecap="round"/>
<path d="M232.0,318.0L214.0,312.0" fill="none" stroke="#167410" stroke-width="1.3" stroke-linecap="round"/>
<path d="M258.4,94.1C258.4,94.1 263.1,89.7 265.7,87.8C268.3,85.9 272.0,84.0 274.1,82.6C276.2,81.2 278.3,79.5 278.3,79.5C278.3,79.5 284.6,79.6 287.7,80.5C290.8,81.4 294.8,84.4 297.1,84.7C299.4,85.0 301.3,82.2 301.3,82.2C301.3,82.2 302.2,83.9 304.5,85.2C306.8,86.5 311.9,88.6 314.9,89.9C317.9,91.2 319.9,91.6 322.3,93.0C324.8,94.4 326.6,96.4 329.6,98.3C332.6,100.2 340.1,104.2 340.1,104.2C340.1,104.2 339.9,105.0 341.1,106.6C342.3,108.2 345.6,110.8 347.4,114.0C349.1,117.2 350.7,122.0 351.6,125.5C352.5,129.0 353.1,132.8 352.6,134.9C352.1,137.0 349.8,137.1 348.4,138.1C347.0,139.1 346.6,140.5 344.2,141.2C341.8,141.9 338.1,142.7 333.8,142.3C329.5,142.0 323.0,140.3 318.1,139.1C313.2,137.9 307.9,136.0 304.5,134.9C301.1,133.8 297.5,132.5 297.5,132.5C297.5,132.5 306.5,127.6 306.5,127.6C306.5,127.6 298.8,124.9 295.0,123.4C291.2,121.9 284.0,118.5 284.0,118.5C284.0,118.5 292.9,114.0 292.9,114.0C292.9,114.0 286.1,110.6 282.5,108.7C278.9,106.8 271.5,102.5 271.5,102.5C271.5,102.5 278.3,97.2 278.3,97.2C278.3,97.2 271.1,95.1 267.8,94.6C264.5,94.1 258.4,94.1 258.4,94.1Z" fill="url(#leafg)" stroke="#167410" stroke-width="2" stroke-linejoin="round"/>
<path d="M258.4,94.1C263.1,93.0 277.5,87.4 286.6,87.8C295.7,88.2 304.9,92.2 312.8,96.2C320.7,100.2 327.7,105.8 333.8,111.9C339.9,118.0 346.9,129.3 349.5,132.8" fill="none" stroke="#167410" stroke-width="1.6" stroke-linecap="round"/>
<path d="M300.0,90.0L288.0,84.0" fill="none" stroke="#167410" stroke-width="1.2" stroke-linecap="round"/>
<path d="M318.0,99.0L296.0,96.0" fill="none" stroke="#167410" stroke-width="1.2" stroke-linecap="round"/>
<path d="M330.0,110.0L300.0,116.0" fill="none" stroke="#167410" stroke-width="1.2" stroke-linecap="round"/>
<path d="M340.0,122.0L314.0,128.0" fill="none" stroke="#167410" stroke-width="1.2" stroke-linecap="round"/>
<path d="M381.1,90.1C381.1,90.1 377.7,82.0 376.9,79.0C376.1,76.0 376.1,73.7 376.2,72.0C376.3,70.3 377.6,68.8 377.6,68.8C377.6,68.8 379.6,72.6 380.4,71.5C381.2,70.4 381.2,65.2 382.5,62.2C383.8,59.2 386.4,55.8 388.1,53.8C389.9,51.8 391.0,51.7 393.0,50.3C395.0,48.9 397.7,46.7 400.0,45.4C402.3,44.1 404.1,43.6 407.0,42.6C409.9,41.6 414.3,40.0 417.4,39.1C420.5,38.2 422.6,37.4 425.8,37.0C429.0,36.6 436.3,36.8 436.3,36.8C436.3,36.8 433.2,38.2 432.1,39.1C431.1,40.0 430.0,41.9 430.0,41.9C430.0,41.9 433.8,42.6 433.8,42.6C433.8,42.6 428.4,44.9 426.5,46.1C424.6,47.3 422.3,49.6 422.3,49.6C422.3,49.6 426.8,51.0 426.8,51.0C426.8,51.0 424.1,54.7 422.3,56.6C420.5,58.5 416.0,62.2 416.0,62.2C416.0,62.2 420.5,63.6 420.5,63.6C420.5,63.6 417.3,68.5 415.3,70.6C413.3,72.7 408.4,76.2 408.4,76.2C408.4,76.2 412.2,76.9 412.2,76.9C412.2,76.9 407.2,81.2 404.2,83.1C401.2,84.9 397.7,86.8 394.4,88.0C391.1,89.2 386.8,89.8 384.6,90.1C382.4,90.4 381.1,90.1 381.1,90.1Z" fill="url(#leafg)" stroke="#167410" stroke-width="2" stroke-linejoin="round"/>
<path d="M381.1,90.1C383.1,86.5 388.7,74.7 393.0,68.5C397.3,62.3 401.2,57.9 407.0,53.1C412.8,48.3 424.5,42.0 428.0,39.8" fill="none" stroke="#167410" stroke-width="1.5" stroke-linecap="round"/>
<path d="M398.0,62.0L410.0,60.0" fill="none" stroke="#167410" stroke-width="1.1" stroke-linecap="round"/>
<path d="M392.0,72.0L400.0,74.0" fill="none" stroke="#167410" stroke-width="1.1" stroke-linecap="round"/>
<path d="M392.0,158.6C392.0,158.6 396.0,148.5 400.5,144.0C405.0,139.5 411.8,134.9 418.9,131.8C426.0,128.8 435.2,126.3 443.3,125.7C451.4,125.1 461.2,126.5 467.7,128.1C474.2,129.7 478.3,132.8 482.4,135.4C486.5,138.1 489.8,141.0 492.2,144.0C494.6,147.0 496.6,153.3 496.6,153.3C496.6,153.3 492.5,153.0 489.7,152.5C486.9,152.0 484.0,150.3 479.9,150.1C475.8,149.9 465.3,151.3 465.3,151.3C465.3,151.3 467.9,155.2 467.9,155.2C467.9,155.2 459.4,155.8 455.5,156.2C451.6,156.6 444.5,157.4 444.5,157.4C444.5,157.4 453.3,163.1 453.3,163.1C453.3,163.1 445.8,166.3 442.1,167.2C438.4,168.1 434.6,168.4 431.1,168.4C427.6,168.4 421.3,167.2 421.3,167.2C421.3,167.2 428.8,173.6 428.8,173.6C428.8,173.6 422.6,174.8 418.9,174.5C415.2,174.2 410.3,173.3 406.6,172.1C402.9,170.9 399.3,169.4 396.9,167.2C394.5,164.9 392.0,158.6 392.0,158.6Z" fill="url(#leafg)" stroke="#167410" stroke-width="2" stroke-linejoin="round"/>
<path d="M392.0,159.9C396.5,155.8 409.3,140.1 418.9,135.4C428.5,130.7 439.2,131.8 449.4,131.8C459.6,131.8 474.8,134.8 479.9,135.4" fill="none" stroke="#167410" stroke-width="1.6" stroke-linecap="round"/>
<path d="M410.0,142.0L425.0,152.0" fill="none" stroke="#167410" stroke-width="1.2" stroke-linecap="round"/>
<path d="M428.0,134.0L445.0,146.0" fill="none" stroke="#167410" stroke-width="1.2" stroke-linecap="round"/>
<path d="M452.0,132.0L468.0,140.0" fill="none" stroke="#167410" stroke-width="1.2" stroke-linecap="round"/>
<path d="M399.7,321.2C399.1,318.1 400.2,313.7 400.5,310.0C400.8,306.3 400.4,302.3 401.2,299.0C401.9,295.7 403.8,292.2 405.0,290.0C406.2,287.8 406.8,287.3 408.6,285.6C410.4,283.9 416.0,279.7 416.0,279.7C416.0,279.7 421.7,275.9 426.4,273.7C431.1,271.5 437.5,268.0 444.2,266.3C450.9,264.6 459.0,263.1 466.4,263.4C473.8,263.6 482.5,265.6 488.7,267.8C494.9,270.0 499.1,273.2 503.5,276.7C507.9,280.2 511.9,284.4 515.4,288.6C518.9,292.8 521.9,298.4 524.3,301.9C526.7,305.4 529.8,309.5 529.8,309.5C529.8,309.5 523.2,307.2 518.3,307.1C513.4,307.0 500.5,308.6 500.5,308.6C500.5,308.6 504.5,312.5 504.5,312.5C504.5,312.5 485.7,319.0 485.7,319.0C485.7,319.0 488.9,322.9 488.9,322.9C488.9,322.9 478.3,326.7 473.8,328.6C469.3,330.6 462.0,334.6 462.0,334.6C462.0,334.6 466.6,338.5 466.6,338.5C466.6,338.5 457.3,340.1 451.6,340.5C445.9,340.9 432.3,341.2 432.3,341.2C432.3,341.2 439.2,351.1 439.2,351.1C439.2,351.1 433.4,348.4 429.3,346.4C425.2,344.4 418.7,342.0 414.5,339.0C410.3,336.0 406.6,331.6 404.1,328.6C401.6,325.6 400.3,324.3 399.7,321.2Z" fill="url(#leafg)" stroke="#167410" stroke-width="2" stroke-linejoin="round"/>
<path d="M402.6,325.7C407.1,321.5 419.9,306.6 429.3,300.4C438.7,294.2 447.9,291.8 459.0,288.6C470.1,285.4 489.9,282.4 496.1,281.2" fill="none" stroke="#167410" stroke-width="1.8" stroke-linecap="round"/>
<path d="M420.0,308.0L448.0,322.0" fill="none" stroke="#167410" stroke-width="1.3" stroke-linecap="round"/>
<path d="M442.0,296.0L470.0,312.0" fill="none" stroke="#167410" stroke-width="1.3" stroke-linecap="round"/>
<path d="M470.0,286.0L492.0,300.0" fill="none" stroke="#167410" stroke-width="1.3" stroke-linecap="round"/>
<path d="M412.0,316.0L426.0,334.0" fill="none" stroke="#167410" stroke-width="1.3" stroke-linecap="round"/>
<path d="M432.0,299.0L440.0,276.0" fill="none" stroke="#167410" stroke-width="1.3" stroke-linecap="round"/>
<path d="M460.0,288.0L476.0,270.0" fill="none" stroke="#167410" stroke-width="1.3" stroke-linecap="round"/>
<path d="M415.0,310.0L412.0,288.0" fill="none" stroke="#167410" stroke-width="1.3" stroke-linecap="round"/>
<path d="M358,437 L390,437 L388,442 L360,442Z" fill="#4f3510"/>
<text x="782" y="124.9" font-family="Liberation Sans" font-size="32" fill="#000">Arbusculated cell</text>
<rect x="659.5" y="191" width="459.2" height="244.8" rx="7.5" fill="#dcdcdc" stroke="#969696" stroke-width="2"/>
<path d="M861.7,187.9C863.2,190.3 867.4,193.9 869.2,199.9C871.0,205.9 872.2,211.9 870.7,217.9C869.2,223.9 868.9,225.7 861.7,229.9C854.5,234.1 845.5,235.9 834.7,238.9C823.9,241.9 816.8,244.3 807.8,244.9C798.8,245.5 797.6,244.9 789.8,241.9C782.0,238.9 777.8,234.1 768.8,229.9C759.8,225.7 754.5,222.4 744.9,220.9C735.3,219.4 727.2,219.4 720.9,222.4C714.6,225.4 714.0,229.6 713.4,235.9C712.8,242.2 711.6,246.6 717.9,253.8C724.2,261.0 738.3,267.0 744.9,271.8C751.5,276.6 751.4,274.8 750.8,277.8C750.2,280.8 748.5,282.6 741.9,286.8C735.3,291.0 725.1,294.0 717.9,298.8C710.7,303.6 707.1,305.4 705.9,310.8C704.7,316.2 707.1,321.5 711.9,325.7C716.7,329.9 720.3,332.3 729.9,331.7C739.5,331.1 744.8,327.5 759.8,322.7C774.8,317.9 785.6,316.2 804.8,307.8C824.0,299.4 842.5,287.4 855.7,280.8C868.9,274.2 865.9,274.2 870.7,274.8C875.5,275.4 879.1,280.2 879.7,283.8C880.3,287.4 880.9,288.6 873.7,292.8C866.5,297.0 856.9,298.8 843.7,304.8C830.5,310.8 816.2,316.1 807.8,322.7C799.4,329.3 801.8,331.7 801.8,337.7C801.8,343.7 801.8,348.5 807.8,352.7C813.8,356.9 820.3,358.7 831.7,358.7C843.1,358.7 849.9,356.9 864.7,352.7C879.5,348.5 892.9,337.8 905.9,337.8C918.9,337.8 917.9,347.4 929.9,352.8C941.9,358.2 953.9,362.4 965.9,364.8C977.9,367.2 983.2,366.6 989.8,364.8C996.4,363.0 997.6,360.6 998.8,355.8C1000.0,351.0 1001.2,346.8 995.8,340.8C990.4,334.8 982.4,332.4 971.9,325.8C961.4,319.2 950.0,315.0 943.4,307.8C936.8,300.6 936.8,295.2 938.9,289.8C941.0,284.4 943.7,283.2 953.9,280.8C964.1,278.4 973.6,276.6 989.8,277.8C1006.0,279.0 1020.4,285.6 1034.8,286.8C1049.2,288.0 1053.4,287.4 1061.8,283.8C1070.2,280.2 1074.3,273.7 1076.7,268.9C1079.1,264.1 1079.1,264.1 1073.7,259.9C1068.3,255.7 1058.8,252.1 1049.8,247.9C1040.8,243.7 1034.2,244.3 1028.8,238.9C1023.4,233.5 1027.0,228.1 1022.8,220.9C1018.6,213.7 1015.0,207.7 1007.8,202.9C1000.6,198.1 994.6,196.3 986.8,196.9C979.0,197.5 973.5,200.9 968.9,205.9C964.3,210.9 966.4,216.0 964.0,222.0C961.6,228.0 961.0,232.4 957.0,236.0C953.0,239.6 949.2,240.0 944.0,240.0C938.8,240.0 935.0,240.0 931.0,236.0C927.0,232.0 926.6,227.2 924.0,220.0C921.4,212.8 921.5,206.3 917.9,199.9C914.3,193.5 908.3,190.3 905.9,187.9 L905.9,180 L861.7,180 Z" fill="none" stroke="#a4a4a4" stroke-width="34" stroke-linejoin="round"/>
<path d="M861.7,187.9C863.2,190.3 867.4,193.9 869.2,199.9C871.0,205.9 872.2,211.9 870.7,217.9C869.2,223.9 868.9,225.7 861.7,229.9C854.5,234.1 845.5,235.9 834.7,238.9C823.9,241.9 816.8,244.3 807.8,244.9C798.8,245.5 797.6,244.9 789.8,241.9C782.0,238.9 777.8,234.1 768.8,229.9C759.8,225.7 754.5,222.4 744.9,220.9C735.3,219.4 727.2,219.4 720.9,222.4C714.6,225.4 714.0,229.6 713.4,235.9C712.8,242.2 711.6,246.6 717.9,253.8C724.2,261.0 738.3,267.0 744.9,271.8C751.5,276.6 751.4,274.8 750.8,277.8C750.2,280.8 748.5,282.6 741.9,286.8C735.3,291.0 725.1,294.0 717.9,298.8C710.7,303.6 707.1,305.4 705.9,310.8C704.7,316.2 707.1,321.5 711.9,325.7C716.7,329.9 720.3,332.3 729.9,331.7C739.5,331.1 744.8,327.5 759.8,322.7C774.8,317.9 785.6,316.2 804.8,307.8C824.0,299.4 842.5,287.4 855.7,280.8C868.9,274.2 865.9,274.2 870.7,274.8C875.5,275.4 879.1,280.2 879.7,283.8C880.3,287.4 880.9,288.6 873.7,292.8C866.5,297.0 856.9,298.8 843.7,304.8C830.5,310.8 816.2,316.1 807.8,322.7C799.4,329.3 801.8,331.7 801.8,337.7C801.8,343.7 801.8,348.5 807.8,352.7C813.8,356.9 820.3,358.7 831.7,358.7C843.1,358.7 849.9,356.9 864.7,352.7C879.5,348.5 892.9,337.8 905.9,337.8C918.9,337.8 917.9,347.4 929.9,352.8C941.9,358.2 953.9,362.4 965.9,364.8C977.9,367.2 983.2,366.6 989.8,364.8C996.4,363.0 997.6,360.6 998.8,355.8C1000.0,351.0 1001.2,346.8 995.8,340.8C990.4,334.8 982.4,332.4 971.9,325.8C961.4,319.2 950.0,315.0 943.4,307.8C936.8,300.6 936.8,295.2 938.9,289.8C941.0,284.4 943.7,283.2 953.9,280.8C964.1,278.4 973.6,276.6 989.8,277.8C1006.0,279.0 1020.4,285.6 1034.8,286.8C1049.2,288.0 1053.4,287.4 1061.8,283.8C1070.2,280.2 1074.3,273.7 1076.7,268.9C1079.1,264.1 1079.1,264.1 1073.7,259.9C1068.3,255.7 1058.8,252.1 1049.8,247.9C1040.8,243.7 1034.2,244.3 1028.8,238.9C1023.4,233.5 1027.0,228.1 1022.8,220.9C1018.6,213.7 1015.0,207.7 1007.8,202.9C1000.6,198.1 994.6,196.3 986.8,196.9C979.0,197.5 973.5,200.9 968.9,205.9C964.3,210.9 966.4,216.0 964.0,222.0C961.6,228.0 961.0,232.4 957.0,236.0C953.0,239.6 949.2,240.0 944.0,240.0C938.8,240.0 935.0,240.0 931.0,236.0C927.0,232.0 926.6,227.2 924.0,220.0C921.4,212.8 921.5,206.3 917.9,199.9C914.3,193.5 908.3,190.3 905.9,187.9 L905.9,180 L861.7,180 Z" fill="none" stroke="#8a8a8a" stroke-width="26" stroke-linejoin="round"/>
<path d="M861.7,187.9C863.2,190.3 867.4,193.9 869.2,199.9C871.0,205.9 872.2,211.9 870.7,217.9C869.2,223.9 868.9,225.7 861.7,229.9C854.5,234.1 845.5,235.9 834.7,238.9C823.9,241.9 816.8,244.3 807.8,244.9C798.8,245.5 797.6,244.9 789.8,241.9C782.0,238.9 777.8,234.1 768.8,229.9C759.8,225.7 754.5,222.4 744.9,220.9C735.3,219.4 727.2,219.4 720.9,222.4C714.6,225.4 714.0,229.6 713.4,235.9C712.8,242.2 711.6,246.6 717.9,253.8C724.2,261.0 738.3,267.0 744.9,271.8C751.5,276.6 751.4,274.8 750.8,277.8C750.2,280.8 748.5,282.6 741.9,286.8C735.3,291.0 725.1,294.0 717.9,298.8C710.7,303.6 707.1,305.4 705.9,310.8C704.7,316.2 707.1,321.5 711.9,325.7C716.7,329.9 720.3,332.3 729.9,331.7C739.5,331.1 744.8,327.5 759.8,322.7C774.8,317.9 785.6,316.2 804.8,307.8C824.0,299.4 842.5,287.4 855.7,280.8C868.9,274.2 865.9,274.2 870.7,274.8C875.5,275.4 879.1,280.2 879.7,283.8C880.3,287.4 880.9,288.6 873.7,292.8C866.5,297.0 856.9,298.8 843.7,304.8C830.5,310.8 816.2,316.1 807.8,322.7C799.4,329.3 801.8,331.7 801.8,337.7C801.8,343.7 801.8,348.5 807.8,352.7C813.8,356.9 820.3,358.7 831.7,358.7C843.1,358.7 849.9,356.9 864.7,352.7C879.5,348.5 892.9,337.8 905.9,337.8C918.9,337.8 917.9,347.4 929.9,352.8C941.9,358.2 953.9,362.4 965.9,364.8C977.9,367.2 983.2,366.6 989.8,364.8C996.4,363.0 997.6,360.6 998.8,355.8C1000.0,351.0 1001.2,346.8 995.8,340.8C990.4,334.8 982.4,332.4 971.9,325.8C961.4,319.2 950.0,315.0 943.4,307.8C936.8,300.6 936.8,295.2 938.9,289.8C941.0,284.4 943.7,283.2 953.9,280.8C964.1,278.4 973.6,276.6 989.8,277.8C1006.0,279.0 1020.4,285.6 1034.8,286.8C1049.2,288.0 1053.4,287.4 1061.8,283.8C1070.2,280.2 1074.3,273.7 1076.7,268.9C1079.1,264.1 1079.1,264.1 1073.7,259.9C1068.3,255.7 1058.8,252.1 1049.8,247.9C1040.8,243.7 1034.2,244.3 1028.8,238.9C1023.4,233.5 1027.0,228.1 1022.8,220.9C1018.6,213.7 1015.0,207.7 1007.8,202.9C1000.6,198.1 994.6,196.3 986.8,196.9C979.0,197.5 973.5,200.9 968.9,205.9C964.3,210.9 966.4,216.0 964.0,222.0C961.6,228.0 961.0,232.4 957.0,236.0C953.0,239.6 949.2,240.0 944.0,240.0C938.8,240.0 935.0,240.0 931.0,236.0C927.0,232.0 926.6,227.2 924.0,220.0C921.4,212.8 921.5,206.3 917.9,199.9C914.3,193.5 908.3,190.3 905.9,187.9 L905.9,180 L861.7,180 Z" fill="#f9a8d6" stroke="#6e5a44" stroke-width="3.6" stroke-linejoin="round"/>
<rect x="649" y="149" width="495" height="38" fill="#f9a8d6"/>
<path d="M649,149.5H1144M649,187.5H862M906,186.5H1144" stroke="#6e5a44" stroke-width="3" fill="none"/>
<rect x="863" y="184" width="42" height="8" fill="#f9a8d6"/>
<ellipse cx="803.3" cy="220.9" rx="10.5" ry="16.5" fill="#1e98dc" stroke="#000" stroke-width="1.3"/><path d="M804.2,238.9L801.8,194" stroke="#000" stroke-width="2"/><path d="M796.8,207.5L806.8,207.5L801.8,194Z" fill="#000"/>
<ellipse cx="709.5" cy="345.2" rx="10.5" ry="16.5" fill="#1e98dc" stroke="#000" stroke-width="1.3"/><path d="M710.4,324.2L708.9,380" stroke="#000" stroke-width="2"/><path d="M703.9,366.5L713.9,366.5L708.9,380Z" fill="#000"/>
<ellipse cx="959" cy="385.7" rx="10.5" ry="17" fill="#1e98dc" stroke="#000" stroke-width="1.3"/><path d="M959.9,363.3L959,420.2" stroke="#000" stroke-width="2"/><path d="M954,406.7L964,406.7L959,420.2Z" fill="#000"/>
<ellipse cx="1084.2" cy="241.9" rx="16.5" ry="10.5" fill="#1e98dc" stroke="#000" stroke-width="1.3"/>
<path d="M1060.3,238.3L1110,243.7" stroke="#000" stroke-width="2"/><path d="M1103,238.5L1103,249.5L1116.5,244.3Z" fill="#000"/>
<ellipse cx="755.2" cy="348.2" rx="37.4" ry="16.2" fill="#f00c10"/>
<text x="755.2" y="352.6" text-anchor="middle" font-family="Liberation Serif" font-size="16.7" fill="#1e0404" stroke="#1e0404" stroke-width="0.35">SlHAK10</text>
<ellipse cx="1005.3" cy="387" rx="37.4" ry="16.1" fill="#f00c10"/>
<text x="1005.3" y="392.6" text-anchor="middle" font-family="Liberation Serif" font-size="16.7" fill="#1e0404" stroke="#1e0404" stroke-width="0.35">SlHAK10</text>
<use href="#rk" x="729.8" y="161.7" fill="#ee1020"/>
<use href="#rk" x="802.5" y="238.4" fill="#ee1020"/>
<use href="#rk" x="722.5" y="311.4" fill="#ee1020"/>
<use href="#rk" x="1052.5" y="241.4" fill="#ee1020"/>
<use href="#rk" x="952" y="343.2" fill="#ee1020"/>
</svg>
</body></html>
